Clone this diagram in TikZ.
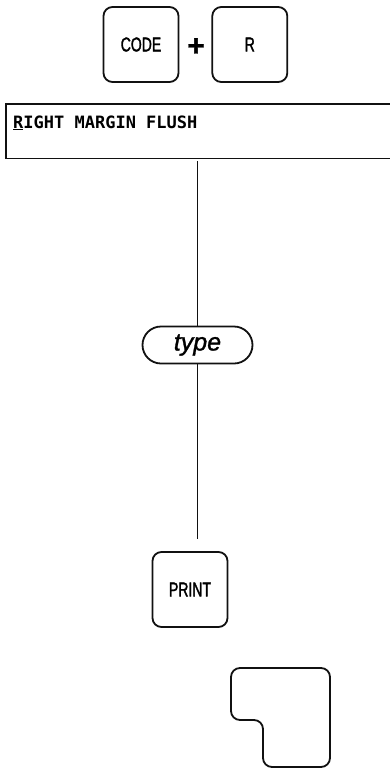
\documentclass[tikz,border=0pt]{standalone}
\usepackage{fontspec}
\usepackage{tikz}
\usetikzlibrary{positioning, shapes.misc, calc}
\newfontfamily\keyfont[FakeStretch=0.7,FakeBold=1.6]{Liberation Sans}
\newfontfamily\labelfont[FakeBold=1.2]{Liberation Sans}
\newfontfamily\screenfont{DejaVu Sans Mono}
\definecolor{keyline}{HTML}{111111}

\begin{document}
\begin{tikzpicture}[x=1pt,y=-1pt,
 key/.style={draw=keyline, line width=1.8pt, rounded corners=9pt, minimum width=75pt, minimum height=75pt, inner sep=0pt, font=\keyfont\fontsize{20}{20}\selectfont},
 frame/.style={draw=keyline, line width=1.3pt},
 wire/.style={draw=keyline, line width=0.9pt}]
\useasboundingbox (0,0) rectangle (389,769);

\node[key](code) at (141,44.5){CODE};
\node[inner sep=0pt,font=\labelfont\bfseries\fontsize{30}{30}\selectfont](plus) at (196,47){+};
\node[key, right=32pt of code](rkey){R};

\node[minimum width=400pt, minimum height=54pt, anchor=north west, inner sep=0pt](menu) at (6,104){};
\node[anchor=base west, inner sep=0pt, font=\screenfont\bfseries\fontsize{17}{17}\selectfont](menutext) at (13,128){\underline{R}IGHT MARGIN FLUSH};
\draw[frame](menu.north east)--(menu.north west)--(menu.south west)--(menu.south east);

\node[rounded rectangle, draw=keyline, line width=1.8pt, minimum width=110pt, minimum height=37pt, inner sep=0pt, font=\labelfont\itshape\fontsize{25}{25}\selectfont](type) at (197.5,345){type};
\node[key](print) at (190,589.5){PRINT};

\draw[wire,shorten <=3pt](type.north |- menu.south)--(type.north);
\draw[wire,shorten >=12pt](type.south)--(type.south |- print.north);

\draw[draw=keyline, line width=1.8pt, rounded corners=9pt](285,668)--(330,668)--(330,767)--(263,767)--(263,720)--(231,720)--(231,668)--cycle;

\end{tikzpicture}
\end{document}
